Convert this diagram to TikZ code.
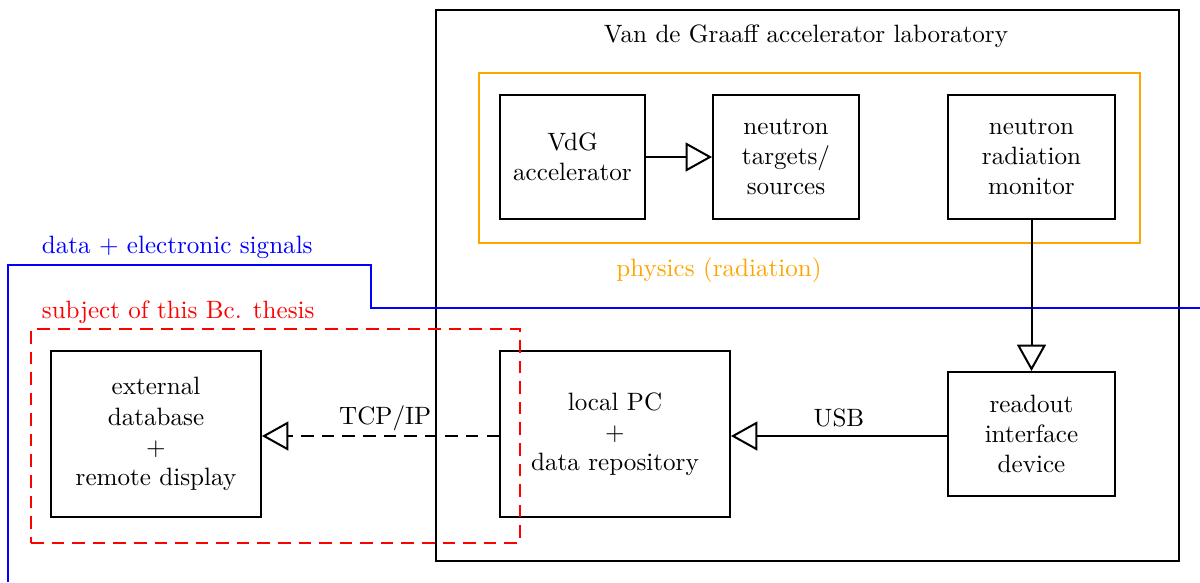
\documentclass[tikz,border=0pt]{standalone}
\usepackage{tikz}
\usetikzlibrary{arrows.meta,positioning}

\definecolor{physorange}{RGB}{255,165,0}

\tikzset{
  blockbox/.style={draw, line width=0.8pt, align=center, inner sep=2pt},
  openarrow/.style={line width=0.8pt, -{Triangle[open,length=10.5pt,width=11.5pt]}},
  longdash/.style={dash pattern=on 5pt off 3.2pt}
}

\begin{document}
\begin{tikzpicture}[x=0.014cm, y=-0.014cm]
\useasboundingbox (0,0) rectangle (1200,582);

% laboratory and physics frames
\node (lab) [draw, line width=0.8pt, minimum width=10.402cm, minimum height=7.714cm] at (807.5,285.5) {};
\node (labtitle) at (806,36) {Van de Graaff accelerator laboratory};
\node (phys) [draw=physorange, line width=0.8pt, minimum width=9.254cm, minimum height=2.38cm] at (809.5,158) {};
\node (physlabel) [text=physorange] at (719,270) {physics (radiation)};

% blocks
\node (vdg) [blockbox, minimum width=2.03cm, minimum height=1.736cm] at (572.5,157) {VdG\\accelerator};
\node (targets) [blockbox, minimum width=2.044cm, minimum height=1.736cm] at (786,157) {neutron\\targets/\\sources};
\node (monitor) [blockbox, minimum width=2.338cm, minimum height=1.736cm] at (1031.5,157) {neutron\\radiation\\monitor};
\node (readout) [blockbox, minimum width=2.338cm, minimum height=1.736cm] at (1031.5,434) {readout\\interface\\device};
\node (pc) [blockbox, minimum width=3.22cm, minimum height=2.324cm] at (615,434) {local PC\\+\\data repository};
\node (ext) [blockbox, minimum width=2.94cm, minimum height=2.324cm] at (156,434) {external\\database\\+\\remote display};

% thesis frame
\node (thesis) [draw=red, line width=0.8pt, longdash, minimum width=6.846cm, minimum height=2.996cm] at (275.5,436) {};
\node (thesislabel) [text=red, anchor=base west] at (33,318) {subject of this Bc. thesis};

% signal line
\coordinate (sigA) at (8,582);
\coordinate (sigB) at (8,265);
\coordinate (sigC) at (371,265);
\coordinate (sigD) at (371,308);
\coordinate (sigE) at (1200,308);
\draw [blue, line width=0.8pt] (sigA) -- (sigB) -- (sigC) -- (sigD) -- (sigE);
\node (siglabel) [text=blue, anchor=base west] at (33,253) {data + electronic signals};

% connections
\draw [openarrow] (vdg) -- (targets);
\draw [openarrow] (monitor) -- (readout);
\draw [openarrow] ([yshift=-0.8pt]readout.west) -- node[above] {USB} ([yshift=-0.8pt]pc.east);
\draw [openarrow, longdash] ([yshift=-0.8pt]pc.west) -- node[above, pos=0.48, inner sep=1.5pt] {TCP/IP} ([yshift=-0.8pt]ext.east);
\end{tikzpicture}
\end{document}
